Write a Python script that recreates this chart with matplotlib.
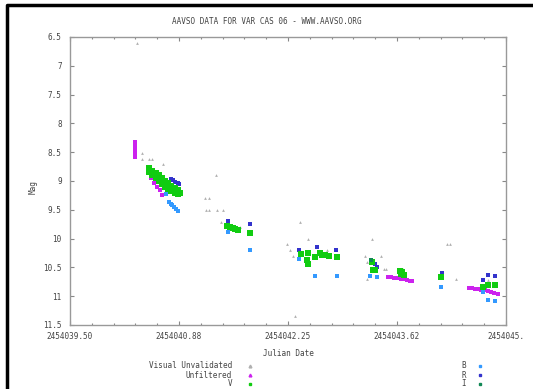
import numpy as np
import matplotlib as mpl
import matplotlib.pyplot as plt
from matplotlib.lines import Line2D

plt.rcParams['font.family'] = 'DejaVu Sans Mono'

# visual unvalidated (gray)
vis_jd = [2454040.35, 2454040.41, 2454040.41, 2454040.50, 2454040.53, 2454040.67,
          2454041.20, 2454041.25, 2454041.34, 2454041.22, 2454041.25, 2454041.35,
          2454041.43, 2454041.40, 2454041.64, 2454042.40, 2454042.50, 2454042.24,
          2454042.28, 2454042.31, 2454042.34, 2454042.74, 2454043.31, 2454043.22,
          2454043.42, 2454043.25, 2454043.46, 2454043.49, 2454043.25, 2454043.70,
          2454044.26, 2454044.29, 2454044.37, 2454044.77]
vis_mag = [6.60, 8.51, 8.61, 8.61, 8.61, 8.71,
           9.30, 9.30, 8.89, 9.51, 9.51, 9.51,
           9.51, 9.72, 9.80, 9.72, 10.01, 10.10,
           10.20, 10.30, 11.34, 10.20, 10.01, 10.31,
           10.31, 10.41, 10.52, 10.52, 10.70, 10.52,
           10.10, 10.10, 10.70, 10.72]

# unfiltered (magenta)
unf_jd = [2454040.32, 2454040.32, 2454040.32, 2454040.32, 2454040.32, 2454040.32, 2454040.32,
          2454040.52, 2454040.56, 2454040.60, 2454040.63, 2454040.66,
          2454043.51, 2454043.55, 2454043.59, 2454043.63, 2454043.67, 2454043.71, 2454043.75, 2454043.79, 2454043.81,
          2454044.53, 2454044.57, 2454044.61, 2454044.65, 2454044.69, 2454044.73, 2454044.77, 2454044.81, 2454044.85, 2454044.90]
unf_mag = [8.33, 8.38, 8.42, 8.46, 8.50, 8.54, 8.58,
           8.94, 9.03, 9.10, 9.16, 9.24,
           10.66, 10.67, 10.68, 10.69, 10.70, 10.71, 10.72, 10.73, 10.74,
           10.86, 10.86, 10.87, 10.88, 10.89, 10.90, 10.91, 10.92, 10.94, 10.96]

# V (green)
v_jd = [2454040.50, 2454040.50, 2454040.54, 2454040.54, 2454040.58, 2454040.58, 2454040.62, 2454040.62,
        2454040.66, 2454040.66, 2454040.70, 2454040.70, 2454040.74, 2454040.74, 2454040.78, 2454040.78,
        2454040.82, 2454040.82, 2454040.86, 2454040.86, 2454040.89, 2454040.56, 2454040.64, 2454040.72,
        2454040.80,
        2454041.48, 2454041.52, 2454041.55, 2454041.58, 2454041.62, 2454041.77,
        2454042.41, 2454042.50, 2454042.49, 2454042.50, 2454042.59, 2454042.65, 2454042.68, 2454042.72,
        2454042.77, 2454042.87,
        2454043.31, 2454043.32, 2454043.35, 2454043.66, 2454043.69, 2454043.68, 2454043.71,
        2454044.18, 2454044.71, 2454044.77, 2454044.86]
v_mag = [8.78, 8.85, 8.82, 8.90, 8.86, 8.95, 8.90, 9.00,
         8.94, 9.05, 9.00, 9.10, 9.04, 9.14, 9.08, 9.17,
         9.12, 9.20, 9.16, 9.22, 9.20, 8.88, 8.98, 9.07,
         9.15,
         9.78, 9.80, 9.82, 9.84, 9.85, 9.91,
         10.27, 10.25, 10.38, 10.44, 10.32, 10.25, 10.29, 10.29,
         10.31, 10.32,
         10.41, 10.55, 10.55, 10.57, 10.58, 10.62, 10.63,
         10.67, 10.84, 10.81, 10.81]

# B (light blue)
b_jd = [2454040.71, 2454040.75, 2454040.77, 2454040.79, 2454040.81, 2454040.84, 2454040.86,
        2454041.49, 2454041.77, 2454042.39, 2454042.59, 2454042.87,
        2454043.28, 2454043.37, 2454044.18, 2454044.71, 2454044.77, 2454044.86]
b_mag = [9.22, 9.36, 9.40, 9.42, 9.45, 9.48, 9.52,
         9.89, 10.19, 10.36, 10.65, 10.65,
         10.65, 10.66, 10.84, 10.93, 11.07, 11.09]

# R (dark blue)
r_jd = [2454040.77, 2454040.80, 2454040.83, 2454040.86, 2454040.88,
        2454041.49, 2454041.77, 2454042.39, 2454042.62, 2454042.86,
        2454043.31, 2454043.35, 2454043.37, 2454044.19, 2454044.71, 2454044.77, 2454044.86]
r_mag = [8.96, 8.99, 9.01, 9.03, 9.05,
         9.70, 9.74, 10.20, 10.15, 10.20,
         10.39, 10.44, 10.49, 10.60, 10.72, 10.64, 10.65]

# I
i_jd = [2454043.30]
i_mag = [10.37]

xticks = [2454039.5, 2454040.875, 2454042.25, 2454043.625, 2454045.0]
xticklabels = ['2454039.50', '2454040.88', '2454042.25', '2454043.62', '2454045.']
yticks = [6.5, 7, 7.5, 8, 8.5, 9, 9.5, 10, 10.5, 11, 11.5]
yticklabels = ['6.5', '7', '7.5', '8', '8.5', '9', '9.5', '10', '10.5', '11', '11.5']

fig = plt.figure(figsize=(5.33, 3.89), dpi=100)
ax = fig.add_axes([70 / 533, 1 - 325 / 389, 436 / 533, 288 / 389])

ax.scatter(vis_jd, vis_mag, marker='^', s=4, color='#b0b0b0', linewidths=0)
ax.scatter(unf_jd, unf_mag, marker='s', s=10, color='#cc22ee', linewidths=0)
ax.scatter(b_jd, b_mag, marker='s', s=9, color='#3399ff', linewidths=0)
ax.scatter(r_jd, r_mag, marker='s', s=9, color='#3333cc', linewidths=0)
ax.scatter(v_jd, v_mag, marker='s', s=16, color='#11cc11', linewidths=0)
ax.scatter(i_jd, i_mag, marker='s', s=9, color='#118855', linewidths=0)

ax.set_xlim(2454039.5, 2454045.0)
ax.set_ylim(11.5, 6.5)
ax.set_xticks(xticks)
ax.set_xticklabels(xticklabels)
ax.set_yticks(yticks)
ax.set_yticklabels(yticklabels)
ax.xaxis.set_minor_locator(mpl.ticker.AutoMinorLocator(5))
ax.tick_params(which='both', direction='in', top=True, right=True, color='#888888',
               labelsize=5.5, labelcolor='#444444', width=0.8)
ax.tick_params(which='major', length=3)
ax.tick_params(which='minor', length=1.5)
ax.tick_params(axis='x', pad=5)
ax.tick_params(axis='y', pad=6)
for s in ax.spines.values():
    s.set_color('#999999')
    s.set_linewidth(1)

fig.text(0.5, 1 - 21 / 389, 'AAVSO DATA FOR VAR CAS 06 - WWW.AAVSO.ORG',
         ha='center', va='center', fontsize=5.5, color='#444444')
ax.set_xlabel('Julian Date', fontsize=5.5, color='#444444', labelpad=6)
fig.text(33 / 533, 1 - 187 / 389, 'Mag', rotation=90, ha='center', va='center',
         fontsize=5.5, color='#444444')

# legend text below plot
leg_left = [('Visual Unvalidated', '^', '#b0b0b0'), ('Unfiltered', '^', '#cc22ee'), ('V', 's', '#11cc11')]
leg_right = [('B', 's', '#3399ff'), ('R', 's', '#3333cc'), ('I', 's', '#118855')]
rows = [366, 375, 384]
for (lab, mk, col), yy in zip(leg_left, rows):
    fig.text(232 / 533, 1 - yy / 389, lab, ha='right', va='center', fontsize=5.5, color='#444444')
    fig.add_artist(Line2D([250 / 533], [1 - yy / 389], marker=mk, markersize=2,
                          color=col, linestyle='none', transform=fig.transFigure))
for (lab, mk, col), yy in zip(leg_right, rows):
    fig.text(466 / 533, 1 - yy / 389, lab, ha='right', va='center', fontsize=5.5, color='#444444')
    fig.add_artist(Line2D([480 / 533], [1 - yy / 389], marker=mk, markersize=2,
                          color=col, linestyle='none', transform=fig.transFigure))

# black frame on the left and top edges
fig.add_artist(Line2D([7 / 533, 7 / 533, 1], [0, 1 - 5 / 389, 1 - 5 / 389],
                      color='black', linewidth=2.5, transform=fig.transFigure))

fig.savefig('out.png', dpi=100)
